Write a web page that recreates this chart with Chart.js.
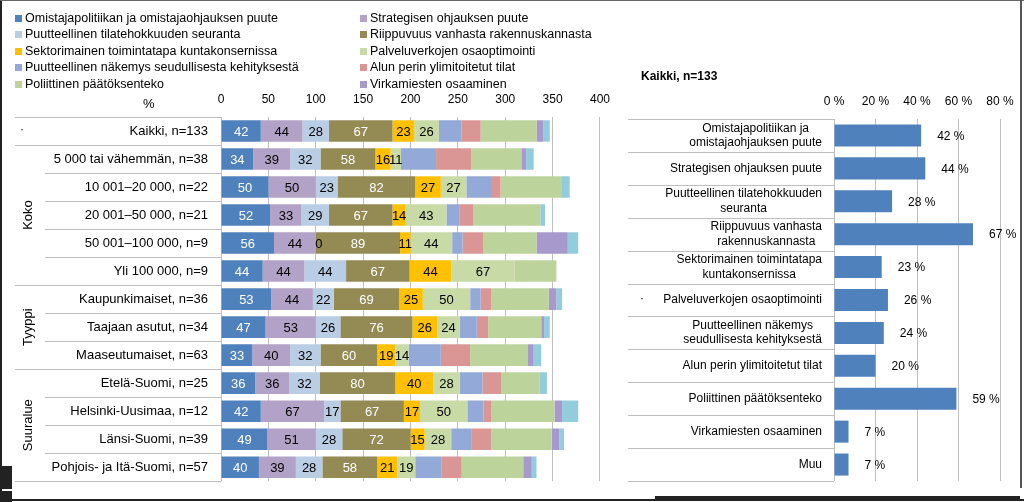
<!DOCTYPE html>
<html>
<head>
<meta charset="utf-8">
<script src="https://cdn.jsdelivr.net/npm/chart.js@4.4.0/dist/chart.umd.min.js"></script>
<style>
  body { margin: 0; background: #fff; font-family: "Liberation Sans", Arial, sans-serif; }
  #wrap { position: relative; width: 1024px; height: 502px; overflow: hidden; }
  canvas { position: absolute; top: 0; }
  #left { left: 0; }
  #right { left: 620px; }
  .txt { position: absolute; font-size: 12px; color: #000; white-space: nowrap; line-height: 14px; }
  .leg { font-size: 12.5px; }
  .sw { display: inline-block; width: 7px; height: 7px; margin-right: 3px; }
  .frame { position: absolute; background: #222; }
</style>
</head>
<body>
<div id="wrap">
  <canvas id="left" width="620" height="502"></canvas>
  <canvas id="right" width="404" height="502"></canvas>
  <div id="legend"></div>
  <div class="txt" style="left:143px;top:97px;font-size:13px">%</div>
  <div class="txt" style="left:20px;top:122px">·</div>
  <div class="txt" style="left:640px;top:291px">·</div>
  <div class="txt" style="left:641px;top:69px;font-weight:bold">Kaikki, n=133</div>
  <div class="frame" style="left:0;top:0;width:2px;height:502px"></div>
  <div class="frame" style="left:0;top:0;width:1024px;height:1px;background:#666"></div>
  <div class="frame" style="left:1020px;top:0;width:2px;height:488px;background:#555"></div>
  <div class="frame" style="left:0;top:499px;width:1024px;height:2px"></div>
  <div class="frame" style="left:655px;top:496px;width:365px;height:4px"></div>
  <div class="frame" style="left:0;top:466px;width:12px;height:23px"></div>
  <div class="frame" style="left:0;top:491px;width:12px;height:11px"></div>
</div>
<script>
// --- Data ---
const rowLabels = [
  'Kaikki, n=133', '5 000 tai vähemmän, n=38', '10 001–20 000, n=22', '20 001–50 000, n=21',
  '50 001–100 000, n=9', 'Yli 100 000, n=9', 'Kaupunkimaiset, n=36', 'Taajaan asutut, n=34',
  'Maaseutumaiset, n=63', 'Etelä-Suomi, n=25', 'Helsinki-Uusimaa, n=12', 'Länsi-Suomi, n=39',
  'Pohjois- ja Itä-Suomi, n=57'
];
const groups = [
  { name: 'Koko', from: 1, to: 5 },
  { name: 'Tyyppi', from: 6, to: 8 },
  { name: 'Suuralue', from: 9, to: 12 }
];

const seriesNames = [
  'Omistajapolitiikan ja omistajaohjauksen puute', 'Strategisen ohjauksen puute',
  'Puutteellinen tilatehokkuuden seuranta', 'Riippuvuus vanhasta rakennuskannasta',
  'Sektorimainen toimintatapa kuntakonsernissa', 'Palveluverkojen osaoptimointi',
  'Puutteellinen näkemys seudullisesta kehityksestä', 'Alun perin ylimitoitetut tilat',
  'Poliittinen päätöksenteko', 'Virkamiesten osaaminen', 'Muu'
];
const seriesColors = [
  '#4f81bd', '#b3a2c7', '#b9cde5', '#948a54', '#ffc000', '#c8daa6',
  '#93a9d8', '#d99694', '#bcd49b', '#a799cb', '#93cddd'
];

const omistaja  = [42, 34, 50, 52, 56, 44, 53, 47, 33, 36, 42, 49, 40];
const strateg   = [44, 39, 50, 33, 44, 44, 44, 53, 40, 36, 67, 51, 39];
const tilatehok = [28, 32, 23, 29, 0, 44, 22, 26, 32, 32, 17, 28, 28];
const riippuvuus= [67, 58, 82, 67, 89, 67, 69, 76, 60, 80, 67, 72, 58];
const sektori   = [23, 16, 27, 14, 11, 44, 25, 26, 19, 40, 17, 15, 21];
const palvelu   = [26, 11, 27, 43, 44, 67, 50, 24, 14, 28, 50, 28, 19];
const nakemys   = [24, 37, 27, 14, 11, 0, 11, 18, 34, 24, 17, 21, 28];
const alunPerin = [20, 37, 9, 14, 22, 0, 11, 12, 31, 20, 8, 21, 21];
const poliitt   = [59, 53, 64, 71, 56, 44, 61, 56, 61, 40, 67, 64, 65];
const virkam    = [7, 5, 0, 0, 33, 0, 8, 3, 6, 0, 8, 8, 9];
const muu       = [7, 8, 9, 5, 11, 0, 6, 6, 8, 8, 17, 5, 5];
const seriesData = [omistaja, strateg, tilatehok, riippuvuus, sektori, palvelu, nakemys, alunPerin, poliitt, virkam, muu];

const xTicksLeft = [0, 50, 100, 150, 200, 250, 300, 350, 400];

const rightLabels = [
  ['Omistajapolitiikan ja', 'omistajaohjauksen puute'], ['Strategisen ohjauksen puute'],
  ['Puutteellinen tilatehokkuuden', 'seuranta'], ['Riippuvuus vanhasta', 'rakennuskannasta'],
  ['Sektorimainen toimintatapa', 'kuntakonsernissa'], ['Palveluverkojen osaoptimointi'],
  ['Puutteellinen näkemys', 'seudullisesta kehityksestä'], ['Alun perin ylimitoitetut tilat'],
  ['Poliittinen päätöksenteko'], ['Virkamiesten osaaminen'], ['Muu']
];
const rightValues = [42, 44, 28, 67, 23, 26, 24, 20, 59, 7, 7];

const FONT = '"Liberation Sans", Arial, sans-serif';
const LINE = '#bfbfbf';

// --- Legend (first 10 series, two columns) ---
const legend = document.getElementById('legend');
legend.innerHTML = seriesNames.slice(0, 10).map((n, k) => {
  const left = k % 2 ? 360 : 15;
  const top = 11 + Math.floor(k / 2) * 16.4;
  return `<div class="txt leg" style="left:${left}px;top:${top}px"><span class="sw" style="background:${seriesColors[k]}"></span>${n}</div>`;
}).join('');

// --- Left chart plugins ---
const leftTable = {
  id: 'leftTable',
  afterDatasetsDraw(chart) {
    const ctx = chart.ctx;
    ctx.save();
    ctx.font = '13px ' + FONT;
    ctx.textAlign = 'center';
    ctx.textBaseline = 'middle';
    for (let d = 0; d < 6; d++) {
      chart.getDatasetMeta(d).data.forEach((bar, i) => {
        ctx.fillStyle = (d === 0 || d === 3) ? '#fff' : '#000';
        const cx = (bar.x + bar.base) / 2 + (seriesData[d][i] === 0 ? 3 : 0);
        ctx.fillText(String(seriesData[d][i]), cx, bar.y + 1);
      });
    }
    ctx.restore();
  },
  afterDraw(chart) {
    const ctx = chart.ctx, y = chart.scales.y, area = chart.chartArea;
    const step = y.getPixelForValue(1) - y.getPixelForValue(0);
    const full = [-1, 0, 5, 8, 12];
    ctx.save();
    ctx.strokeStyle = LINE;
    ctx.lineWidth = 1;
    for (let i = -1; i < rowLabels.length; i++) {
      const yy = Math.round(y.getPixelForValue(i) + step / 2) + 0.5;
      ctx.beginPath();
      ctx.moveTo(full.includes(i) ? 15 : 45, yy);
      ctx.lineTo(area.left, yy);
      ctx.stroke();
    }
    ctx.fillStyle = '#000';
    ctx.font = '13px ' + FONT;
    ctx.textAlign = 'center';
    ctx.textBaseline = 'middle';
    groups.forEach(g => {
      const cy = (y.getPixelForValue(g.from) + y.getPixelForValue(g.to)) / 2;
      ctx.save();
      ctx.translate(28, cy);
      ctx.rotate(-Math.PI / 2);
      ctx.fillText(g.name, 0, 0);
      ctx.restore();
    });
    ctx.restore();
  }
};

new Chart(document.getElementById('left'), {
  type: 'bar',
  data: {
    labels: rowLabels,
    datasets: seriesData.map((d, k) => ({
      label: seriesNames[k], data: d, backgroundColor: seriesColors[k],
      borderWidth: 0, barPercentage: 0.77, categoryPercentage: 1, stack: 's'
    }))
  },
  options: {
    indexAxis: 'y', responsive: false, animation: false,
    layout: { padding: { left: 15, right: 5, top: 0, bottom: 12 } },
    plugins: { legend: { display: false }, tooltip: { enabled: false } },
    scales: {
      x: {
        position: 'top', stacked: true, min: 0, max: 400,
        afterBuildTicks: s => { s.ticks = xTicksLeft.map(v => ({ value: v })); },
        afterFit: s => { s.height = 117; },
        ticks: { color: '#000', font: { family: FONT, size: 12 }, padding: 10 },
        grid: { color: LINE, drawTicks: false },
        border: { display: false }
      },
      y: {
        stacked: true,
        afterFit: s => { s.width = 206; },
        ticks: { color: '#000', font: { family: FONT, size: 13 }, padding: 13 },
        grid: { display: false, drawTicks: false },
        border: { display: false }
      }
    }
  },
  plugins: [leftTable]
});

// --- Right chart plugins ---
const rightTable = {
  id: 'rightTable',
  afterDraw(chart) {
    const ctx = chart.ctx, y = chart.scales.y, area = chart.chartArea;
    const step = y.getPixelForValue(1) - y.getPixelForValue(0);
    ctx.save();
    ctx.strokeStyle = LINE;
    ctx.lineWidth = 1;
    for (let i = -1; i < rightLabels.length; i++) {
      const yy = Math.round(y.getPixelForValue(i) + step / 2) + 0.5;
      ctx.beginPath();
      ctx.moveTo(8, yy);
      ctx.lineTo(area.left, yy);
      ctx.stroke();
    }
    ctx.fillStyle = '#000';
    ctx.font = '12px ' + FONT;
    ctx.textBaseline = 'middle';
    ctx.textAlign = 'center';
    const rx = area.left - 12;
    rightLabels.forEach((lines, i) => {
      const w = Math.max(...lines.map(l => ctx.measureText(l).width));
      const cy = y.getPixelForValue(i);
      lines.forEach((l, j) => {
        ctx.fillText(l, rx - w / 2, cy + (j - (lines.length - 1) / 2) * 14.5);
      });
    });
    ctx.textAlign = 'left';
    chart.getDatasetMeta(0).data.forEach((bar, i) => {
      ctx.fillText(rightValues[i] + ' %', bar.x + 16, bar.y + 1);
    });
    ctx.restore();
  }
};

new Chart(document.getElementById('right'), {
  type: 'bar',
  data: {
    labels: rightLabels.map(l => l.join(' ')),
    datasets: [{ data: rightValues, backgroundColor: '#4f81bd', borderWidth: 0, barPercentage: 0.67, categoryPercentage: 1 }]
  },
  options: {
    indexAxis: 'y', responsive: false, animation: false,
    layout: { padding: { left: 8, right: 24, top: 0, bottom: 21 } },
    plugins: { legend: { display: false }, tooltip: { enabled: false } },
    scales: {
      x: {
        position: 'top', min: 0, max: 80,
        afterFit: s => { s.height = 119; },
        ticks: { stepSize: 20, color: '#000', font: { family: FONT, size: 12 }, padding: 10, callback: v => v + ' %' },
        grid: { color: LINE, drawTicks: false },
        border: { display: false }
      },
      y: {
        afterFit: s => { s.width = 206; },
        ticks: { display: false },
        grid: { display: false, drawTicks: false },
        border: { display: false }
      }
    }
  },
  plugins: [rightTable]
});
</script>
</body>
</html>
